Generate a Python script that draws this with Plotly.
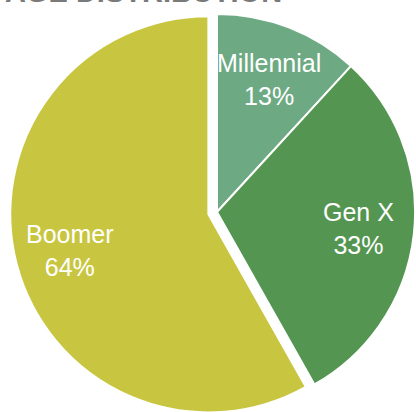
import math
import plotly.graph_objects as go

# ---- data ----
labels = ["Millennial", "Gen X", "Boomer"]
values = [13, 33, 64]
colors = ["#6DAA83", "#549651", "#C8C640"]
pulls = [0, 0, 0.045]
title_text = "AGE DISTRIBUTION"

# ---- layout constants ----
W, H = 424, 420
dom_x = [10 / W, 1]
dom_y = [1 / H, 415 / H]
label_frac = 0.72
font_family = "Liberation Sans, Arial, sans-serif"

fig = go.Figure(
    go.Pie(
        labels=labels,
        values=values,
        sort=False,
        direction="clockwise",
        rotation=0,
        pull=pulls,
        marker=dict(colors=colors, line=dict(color="white", width=2)),
        textinfo="none",
        hoverinfo="label+percent",
        domain=dict(x=dom_x, y=dom_y),
        showlegend=False,
    )
)

# label placement derived from the data (same geometry Plotly uses for the pie)
dw = W * (dom_x[1] - dom_x[0])
dh = H * (dom_y[1] - dom_y[0])
r = min(dw, dh) / 2 / (1 + max(pulls))
cx = W * (dom_x[0] + dom_x[1]) / 2
cy = H * (1 - dom_y[0]) - dh / 2
total = sum(values)
cum = 0
for lab, v, p in zip(labels, values, pulls):
    mid = 2 * math.pi * (cum + v / 2) / total
    cum += v
    rad = r * (label_frac + p)
    px = cx + rad * math.sin(mid)
    py = cy - rad * math.cos(mid)
    fig.add_annotation(
        text=f"{lab}<br>{v}%",
        xref="paper", yref="paper",
        x=px / W, y=1 - py / H,
        xanchor="center", yanchor="middle",
        showarrow=False,
        font=dict(family=font_family, size=25, color="white"),
    )

fig.add_annotation(
    text="<b>" + title_text + "</b>",
    xref="paper", yref="paper", x=0, y=1,
    xanchor="left", yanchor="bottom",
    xshift=3, yshift=-10,
    showarrow=False,
    font=dict(family=font_family, size=29, color="#7a7a7a"),
)

fig.update_layout(
    width=W, height=H,
    margin=dict(l=0, r=0, t=0, b=0),
    paper_bgcolor="white",
    plot_bgcolor="white",
)

fig.write_html(
    "out.html",
    post_script="document.body.style.overflow='hidden';document.body.style.margin='0';",
)
